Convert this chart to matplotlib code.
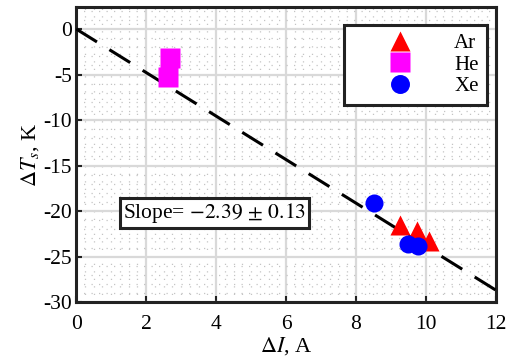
import numpy as np
import matplotlib.pyplot as plt
from matplotlib.ticker import MultipleLocator, FuncFormatter

plt.rcParams['font.family'] = ['Liberation Serif', 'DejaVu Serif']
plt.rcParams['mathtext.fontset'] = 'stix'

# current change vs. temperature change, per gas
ar_dI = [9.26, 9.74, 10.1]
ar_dT = [-21.5, -22.2, -23.3]
he_dI = [2.67, 2.63]
he_dT = [-3.2, -5.25]
xe_dI = [8.51, 9.49, 9.77]
xe_dT = [-19.1, -23.6, -23.8]

slope = -2.39
slope_err = 0.13
fit_x = [0, 12]

fig = plt.figure(figsize=(5.08, 3.58), dpi=100)
ax = fig.add_axes([0.15, 0.156, 0.826, 0.824])

ax.set_xlim(0, 12)
ax.set_ylim(-30, 2.4)
ax.xaxis.set_major_locator(MultipleLocator(2))
ax.xaxis.set_minor_locator(MultipleLocator(0.25))
ax.yaxis.set_major_locator(MultipleLocator(5))
ax.yaxis.set_minor_locator(MultipleLocator(1))
ax.yaxis.set_major_formatter(FuncFormatter(lambda v, p: '%d' % v))

ax.grid(which='major', color='#d9d9d9', lw=1.6)
ax.grid(which='minor', color='#c4c4c4', lw=0.9, ls=(0, (1, 5)))
ax.set_axisbelow(True)

# linear fit through the origin
fx = np.array(fit_x)
ax.plot(fx, slope * fx, color='black', lw=2.2, dashes=(8, 4.8), zorder=3)

ax.plot(ar_dI, ar_dT, '^', color='red', ms=14, mec='none', label='Ar', zorder=4)
ax.plot(he_dI, he_dT, 's', color='magenta', ms=14, mec='none', label='He', zorder=4)
ax.plot(xe_dI, xe_dT, 'o', color='blue', ms=13, mec='none', label='Xe', zorder=4)

ax.tick_params(direction='in', length=4, width=1.5, labelsize=15.5, color='#222222')
ax.tick_params(axis='x', pad=9)
ax.tick_params(axis='y', pad=3)
ax.tick_params(which='minor', length=0)
for s in ax.spines.values():
    s.set_linewidth(2.2)
    s.set_color('#222222')

ax.set_xlabel(r'$\Delta I$, A', fontsize=16, labelpad=1)
ax.set_ylabel(r'$\Delta T_s$, K', fontsize=16, labelpad=2)

leg = ax.legend(loc='upper right', bbox_to_anchor=(0.979, 0.939), fontsize=15,
                markerfirst=True, handletextpad=0.3, borderpad=0.4,
                labelspacing=0.1, handlelength=4.6, borderaxespad=0,
                fancybox=False, framealpha=1, markerscale=1.05)
leg.get_frame().set_edgecolor('#222222')
leg.get_frame().set_linewidth(2.2)

slope_txt = r'Slope= $%.2f\,\pm\,%.2f$' % (slope, slope_err)
ax.text(1.34, -20.2, slope_txt, fontsize=15.5, va='center',
        bbox=dict(boxstyle='square,pad=0.12', fc='white', ec='#222222', lw=2.2),
        zorder=5)

fig.savefig('out.png', dpi=100)
